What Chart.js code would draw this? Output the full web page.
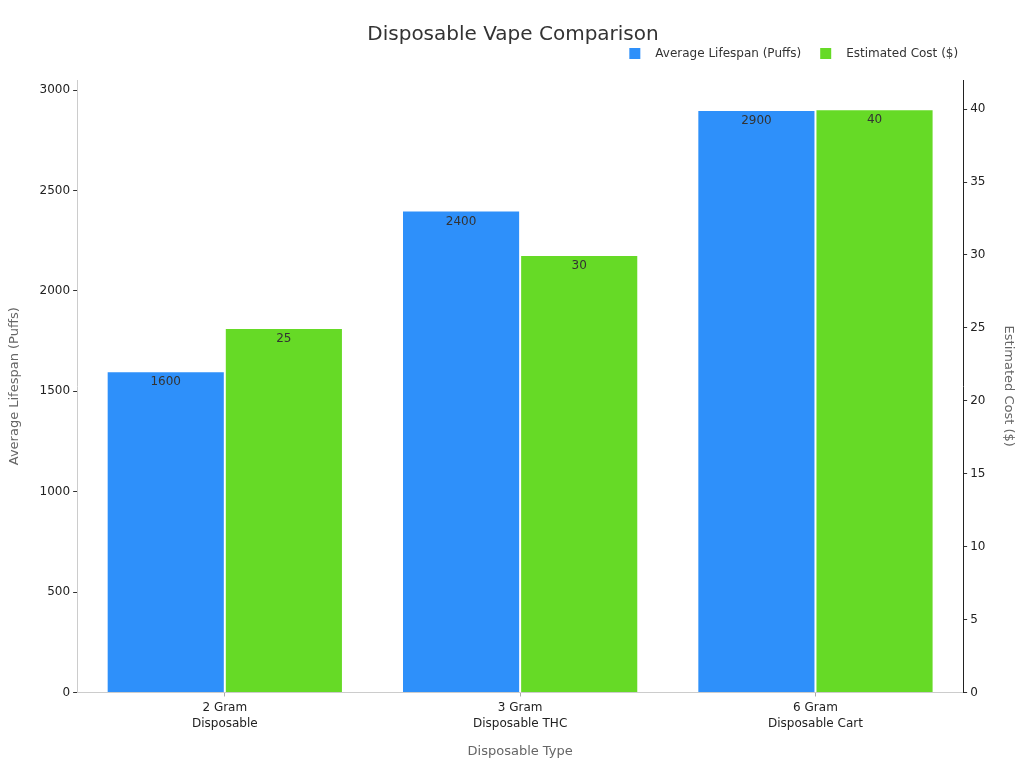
<!DOCTYPE html>
<html>
<head>
<meta charset="utf-8">
<script src="https://cdn.jsdelivr.net/npm/chart.js@4"></script>
<style>
    html, body { margin: 0; padding: 0; background: #fff; }
    #wrap { width: 1024px; height: 768px; }
</style>
</head>
<body>
<div id="wrap"><canvas id="chart"></canvas></div>
<script>
// Datos del gráfico
const categories = [['2 Gram', 'Disposable'], ['3 Gram', 'Disposable THC'], ['6 Gram', 'Disposable Cart']];
const lifespanPuffs = [1600, 2400, 2900];
const costDollars = [25, 30, 40];
const lifespanTicks = [0, 500, 1000, 1500, 2000, 2500, 3000];
const costTicks = [0, 5, 10, 15, 20, 25, 30, 35, 40];

// Etiquetas de valor dentro de cada barra
const barLabels = {
    id: 'barLabels',
    afterDatasetsDraw(chart) {
        const ctx = chart.ctx;
        ctx.save();
        ctx.font = '12px "DejaVu Sans"';
        ctx.fillStyle = '#333';
        ctx.textAlign = 'center';
        ctx.textBaseline = 'middle';
        chart.data.datasets.forEach(function(ds, i) {
            chart.getDatasetMeta(i).data.forEach(function(bar, j) {
                ctx.fillText(String(ds.data[j]), bar.x, bar.y + 11);
            });
        });
        ctx.restore();
    }
};

// Leyenda dibujada a mano (arriba a la derecha)
const topLegend = {
    id: 'topLegend',
    afterDraw(chart) {
        const ctx = chart.ctx;
        const y = 53.5;
        ctx.save();
        ctx.font = '12px "DejaVu Sans"';
        ctx.textBaseline = 'middle';
        ctx.textAlign = 'left';
        let x = chart.chartArea.right - 5;
        const items = chart.data.datasets.slice().reverse();
        items.forEach(function(ds) {
            const w = ctx.measureText(ds.label).width;
            x -= w;
            ctx.fillStyle = '#333';
            ctx.fillText(ds.label, x, y);
            x -= 15 + 11;
            ctx.fillStyle = ds.backgroundColor;
            ctx.fillRect(x, y - 5.5, 11, 11);
            x -= 19;
        });
        ctx.restore();
    }
};

Chart.defaults.font.family = '"DejaVu Sans", sans-serif';
Chart.defaults.color = '#333';

new Chart(document.getElementById('chart'), {
    type: 'bar',
    data: {
        labels: categories,
        datasets: [{
            label: 'Average Lifespan (Puffs)',
            data: lifespanPuffs,
            backgroundColor: '#2E90FA',
            borderColor: '#ffffff',
            borderWidth: 1,
            yAxisID: 'y'
        }, {
            label: 'Estimated Cost ($)',
            data: costDollars,
            backgroundColor: '#66DA26',
            borderColor: '#ffffff',
            borderWidth: 1,
            yAxisID: 'y1'
        }]
    },
    options: {
        responsive: true,
        maintainAspectRatio: false,
        animation: false,
        layout: { padding: { left: 6, right: 4, top: 23, bottom: 3 } },
        datasets: {
            bar: { categoryPercentage: 0.8, barPercentage: 1.0 }
        },
        plugins: {
            title: {
                display: true,
                text: 'Disposable Vape Comparison',
                color: '#333',
                font: { size: 20, weight: 'normal' },
                padding: { top: 0, bottom: 33 }
            },
            legend: { display: false },
            tooltip: { enabled: false }
        },
        scales: {
            x: {
                grid: { drawOnChartArea: false, drawTicks: true, tickLength: 4, color: '#aaa', offset: false },
                border: { color: '#ccc' },
                ticks: { color: '#222', padding: 3, font: { size: 12, lineHeight: 1.33 } },
                title: {
                    display: true,
                    text: 'Disposable Type',
                    color: '#666',
                    font: { size: 13 },
                    padding: { top: 9, bottom: 6 }
                }
            },
            y: {
                position: 'left',
                min: 0,
                max: 3050,
                afterBuildTicks: function(scale) {
                    scale.ticks = lifespanTicks.map(function(v) { return { value: v }; });
                },
                ticks: { color: '#222', font: { size: 12 }, callback: function(v) { return String(v); } },
                grid: { drawOnChartArea: false, drawTicks: true, tickLength: 4, color: '#333' },
                border: { color: '#ccc' },
                title: {
                    display: true,
                    text: 'Average Lifespan (Puffs)',
                    color: '#666',
                    font: { size: 13 },
                    padding: { top: 1, bottom: 14 }
                }
            },
            y1: {
                position: 'right',
                min: 0,
                max: 42,
                afterBuildTicks: function(scale) {
                    scale.ticks = costTicks.map(function(v) { return { value: v }; });
                },
                ticks: { color: '#222', font: { size: 12 }, callback: function(v) { return String(v); } },
                grid: { drawOnChartArea: false, drawTicks: true, tickLength: 4, color: '#333' },
                border: { color: '#222' },
                title: {
                    display: true,
                    text: 'Estimated Cost ($)',
                    color: '#666',
                    font: { size: 13 },
                    padding: { top: 4, bottom: 12 }
                }
            }
        }
    },
    plugins: [barLabels, topLegend]
});
</script>
</body>
</html>
